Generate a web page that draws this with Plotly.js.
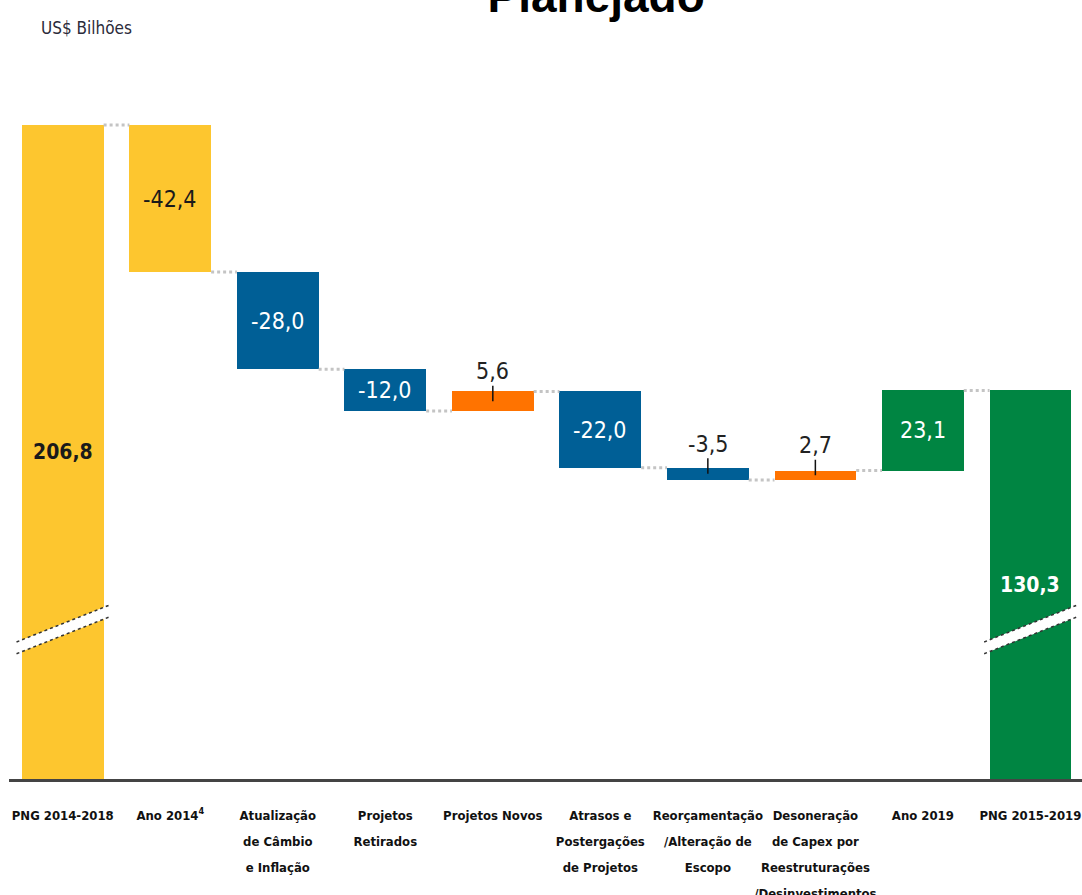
<!DOCTYPE html>
<html>
<head>
<meta charset="utf-8">
<script src="https://cdn.plot.ly/plotly-3.0.1.min.js"></script>
<style>
  html, body { margin: 0; padding: 0; background: #fff; }
  #chart { width: 1082px; height: 895px; }
</style>
</head>
<body>
<div id="chart"></div>
<script>
var categories = ['PNG 2014-2018', 'Ano 2014<sup>4</sup>', 'Atualização<br>de Câmbio<br>e Inflação',
  'Projetos<br>Retirados', 'Projetos Novos', 'Atrasos e<br>Postergações<br>de Projetos',
  'Reorçamentação<br>/Alteração de<br>Escopo', 'Desoneração<br>de Capex por<br>Reestruturações<br>/Desinvestimentos',
  'Ano 2019', 'PNG 2015-2019'];
var values = [206.8, -42.4, -28.0, -12.0, 5.6, -22.0, -3.5, 2.7, 23.1, 130.3];
var isTotal = [true, false, false, false, false, false, false, false, false, true];
var barColors = ['#FDC62F', '#FDC62F', '#005F96', '#005F96', '#FF7300', '#005F96', '#005F96', '#FF7300', '#008542', '#008542'];
var labelColors = ['#1a1a1a', '#1a1a1a', '#fff', '#fff', '#222', '#fff', '#222', '#222', '#fff', '#fff'];
var outsideLabel = [false, false, false, false, true, false, true, true, false, false];

var narrow = 'DejaVu Sans Condensed, Liberation Sans Narrow, sans-serif';
var fmt = function (v) { return v.toFixed(1).replace('.', ','); };

// running totals -> bar bases and heights
var xs = [], bases = [], heights = [], levels = [];
var run = 0;
values.forEach(function (v, i) {
  xs.push(i);
  if (isTotal[i]) {
    bases.push(0); heights.push(v); run = v;
  } else {
    bases.push(Math.min(run, run + v)); heights.push(Math.abs(v)); run = run + v;
  }
  levels.push(run);
});

var bw = 0.76;
var cx = [], cy = [];
for (var i = 0; i < values.length - 1; i++) {
  cx.push(i + bw / 2, i + 1 - bw / 2, null);
  cy.push(levels[i], levels[i], null);
}

// tick labels: wide line spacing from the base size, glyphs smaller
var tickText = categories.map(function (c) {
  return c.split('<br>').map(function (l) {
    return '<span style="font-size:13px"><b>' + l + '</b></span>';
  }).join('<br>');
});

var data = [
  {
    type: 'bar', x: xs, y: heights, base: bases, width: bw,
    marker: { color: barColors, line: { width: 0 } },
    hoverinfo: 'skip', showlegend: false
  },
  {
    type: 'scatter', mode: 'lines', x: cx, y: cy,
    line: { color: '#c4c4c4', width: 3, dash: 'dot' },
    hoverinfo: 'skip', showlegend: false
  }
];

var ymin = 18.3;
var annotations = [];
values.forEach(function (v, i) {
  var lo = Math.max(bases[i], ymin);
  var mid = (lo + bases[i] + heights[i]) / 2;
  var a = {
    x: i, y: mid, xref: 'x', yref: 'y',
    text: isTotal[i] ? '<b>' + fmt(v) + '</b>' : fmt(v),
    font: { family: narrow, size: isTotal[i] ? 21 : 23, color: labelColors[i] },
    showarrow: false
  };
  if (outsideLabel[i]) {
    a.showarrow = true; a.arrowhead = 0; a.arrowwidth = 1.5; a.arrowcolor = '#111';
    a.ax = 0; a.ay = -30; a.standoff = 0;
  }
  annotations.push(a);
});
annotations.push({
  xref: 'paper', yref: 'paper', x: 0.028, y: 1.016, xanchor: 'left', yanchor: 'middle',
  text: 'US$ Bilhões', showarrow: false,
  font: { family: narrow, size: 17, color: '#2b2b3a' }
});

// axis break marks on the two total bars
var shapes = [];
[0, 9].forEach(function (i) {
  var x0 = i - 0.43, x1 = i + 0.44;
  var yA0 = 57.8, yA1 = 68.5, d = 3.4;
  shapes.push({ type: 'path', xref: 'x', yref: 'y',
    path: 'M' + x0 + ',' + yA0 + ' L' + x1 + ',' + yA1 + ' L' + x1 + ',' + (yA1 - d) + ' L' + x0 + ',' + (yA0 - d) + ' Z',
    fillcolor: '#fff', line: { width: 0 } });
  shapes.push({ type: 'line', xref: 'x', yref: 'y', x0: x0, y0: yA0, x1: x1, y1: yA1,
    line: { color: '#333', width: 1.5, dash: 'dot' } });
  shapes.push({ type: 'line', xref: 'x', yref: 'y', x0: x0, y0: yA0 - d, x1: x1, y1: yA1 - d,
    line: { color: '#333', width: 1.5, dash: 'dot' } });
});

var layout = {
  width: 1082, height: 895,
  margin: { l: 9, r: 0, t: 40, b: 116 },
  paper_bgcolor: '#fff', plot_bgcolor: '#fff',
  title: {
    text: '<b>Planejado</b>', xref: 'container', x: 0.551, xanchor: 'center',
    yref: 'paper', y: 1, yanchor: 'bottom', pad: { b: 28 },
    font: { family: 'Liberation Sans, Arial, sans-serif', size: 46, color: '#000' }
  },
  xaxis: {
    range: [-0.5, 9.48], tickvals: xs, ticktext: tickText, tickangle: 0,
    showgrid: false, zeroline: false, showline: true, linecolor: '#444', linewidth: 2.5,
    ticks: '', ticklabelstandoff: 14, ticklabeloverflow: 'allow',
    tickfont: { family: narrow, size: 20, color: '#111' }
  },
  yaxis: {
    range: [ymin, 231.3], visible: false, showgrid: false, zeroline: false
  },
  annotations: annotations,
  shapes: shapes,
  bargap: 0
};

Plotly.newPlot('chart', data, layout, { displayModeBar: false, staticPlot: true });
</script>
</body>
</html>
